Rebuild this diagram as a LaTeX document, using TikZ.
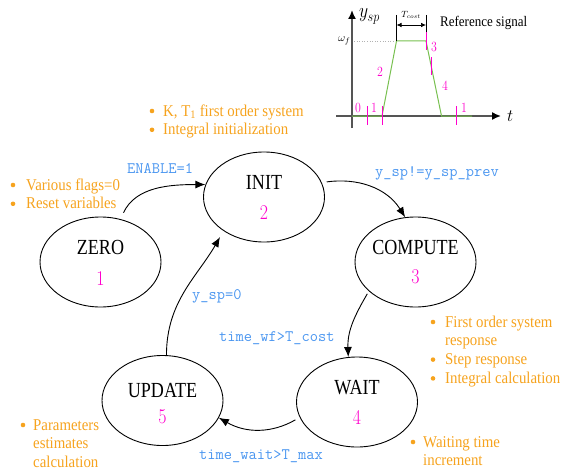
\documentclass[tikz,border=0pt]{standalone}
\usepackage{fontspec}
\usepackage{graphicx}
\usetikzlibrary{shapes.geometric,arrows.meta}

\newfontfamily\txtserif{Liberation Serif}

\definecolor{noteO}{RGB}{246,163,30}
\definecolor{condB}{RGB}{74,150,240}
\definecolor{numM}{RGB}{255,0,204}
\definecolor{sigG}{RGB}{120,192,80}
\definecolor{axisG}{RGB}{85,85,85}

% horizontally condensed text
\newcommand\sqz[2][0.84]{\scalebox{#1}[1]{#2}}

\begin{document}
\begin{tikzpicture}[x=1pt,y=1pt,
  stnode/.style={ellipse,draw,line width=0.9pt,minimum width=121pt,minimum height=90pt,inner sep=0pt},
  stname/.style={anchor=base,inner sep=0pt,font=\txtserif\fontsize{21.5}{24}\selectfont},
  stnum/.style={anchor=base,inner sep=0pt,text=numM,font=\fontsize{21}{24}\selectfont},
  trans/.style={draw,line width=0.9pt,-{Latex[length=10pt,width=8pt]}},
  cond/.style={anchor=base west,inner sep=0pt,text=condB,font=\fontsize{16}{18}\ttfamily},
  notes/.style={anchor=base west,inner sep=0pt,text=noteO,font=\txtserif\fontsize{16.5}{18.8}\selectfont},
  dotb/.style={circle,fill=noteO,inner sep=0pt,minimum size=4.6pt},
  axisln/.style={line width=1.6pt,draw=axisG,-{Latex[length=9pt,width=8pt,color=black]}},
  tick/.style={draw=numM,line width=1pt},
  signum/.style={inner sep=0pt,text=numM,font=\fontsize{14}{16}\selectfont},
]
\useasboundingbox (0,0) rectangle (561,475);

% ---------------- states ----------------
\node[stnode] (zero)    at (100.5,213) {};
\node[stnode] (init)    at (264,278)   {};
\node[stnode] (compute) at (415.5,213) {};
\node[stnode] (wait)    at (357,73)    {};
\node[stnode] (update)  at (162.5,74.5){};

\node[stname] (zero-n)    at (100.5,221) {\sqz{ZERO}};
\node[stnum]  (zero-k)    at (100.5,190) {\sqz[0.85]{1}};
\node[stname] (init-n)    at (264,286)   {\sqz{INIT}};
\node[stnum]  (init-k)    at (264,256)   {\sqz[0.85]{2}};
\node[stname] (compute-n) at (415.5,221) {\sqz{COMPUTE}};
\node[stnum]  (compute-k) at (415.5,192) {\sqz[0.85]{3}};
\node[stname] (wait-n)    at (357,81)    {\sqz{WAIT}};
\node[stnum]  (wait-k)    at (357,51)    {\sqz[0.85]{4}};
\node[stname] (update-n)  at (162.5,78)  {\sqz{UPDATE}};
\node[stnum]  (update-k)  at (162.5,52)  {\sqz[0.85]{5}};

% ---------------- transitions ----------------
\draw[trans,shorten <=7pt] (zero.65) to[out=65,in=180] (init.168);
\draw[trans,shorten <=5pt] (init.14) to[out=8,in=122] (compute.103);
\draw[trans,shorten <=3pt] (compute.212) to[out=240,in=92] (wait.101);
\draw[trans,shorten <=5pt] (wait.195) to[out=210,in=-30] (update.343);
\draw[trans,shorten >=7pt] (update.85) to[out=90,in=240] (init.220);

\node[cond] (c-enable) at (127,302) {ENABLE=1};
\node[cond] (c-ysp)    at (375,299) {y\_sp!=y\_sp\_prev};
\node[cond] (c-zero)   at (192,176) {y\_sp=0};
\node[cond] (c-wf)     at (219,134) {time\_wf>T\_cost};
\node[cond] (c-wait)   at (199,16)  {time\_wait>T\_max};

% ---------------- notes ----------------
\node[notes] (n-init) at (163,359) {\sqz[0.9]{\begin{tabular}[t]{@{}l@{}}K, T\textsubscript{1} first order system\\Integral initialization\end{tabular}}};
\node[dotb] (b-init1) at (152,364) {};
\node[dotb] (b-init2) at (152,345.2) {};

\node[notes] (n-zero) at (26,285) {\sqz[0.9]{\begin{tabular}[t]{@{}l@{}}Various flags=0\\Reset variables\end{tabular}}};
\node[dotb] (b-zero1) at (13,290) {};
\node[dotb] (b-zero2) at (13,271.2) {};

\node[notes] (n-comp) at (445,148) {\sqz[0.9]{\begin{tabular}[t]{@{}l@{}}First order system\\response\\Step response\\Integral calculation\end{tabular}}};
\node[dotb] (b-comp1) at (433,153) {};
\node[dotb] (b-comp2) at (433,115.4) {};
\node[dotb] (b-comp3) at (433,96.6) {};

\node[notes] (n-wait) at (423,28) {\sqz[0.9]{\begin{tabular}[t]{@{}l@{}}Waiting time\\increment\end{tabular}}};
\node[dotb] (b-wait1) at (413,33) {};

\node[notes] (n-upd) at (33,45) {\sqz[0.9]{\begin{tabular}[t]{@{}l@{}}Parameters\\estimates\\calculation\end{tabular}}};
\node[dotb] (b-upd1) at (23,50) {};

% ---------------- reference signal inset ----------------
\draw[axisln] (336,359) -- (501,359);
\draw[axisln] (352,347) -- (352,465);
\draw[gray!60,dotted,line width=0.6pt] (354,434) -- (396.5,434);
\draw[sigG,line width=1pt] (352,359) -- (382,359) -- (396.5,434) -- (426,434) -- (441.5,359) -- (472,359);

\draw[tick] (367,369) -- (367,350);
\draw[tick] (382,369) -- (382,350);
\draw[tick] (456,369) -- (456,350);
\draw[tick] (426,443) -- (426,425);
\draw[tick] (431,418) -- (431,400);

\draw[line width=0.5pt] (396.5,460) -- (396.5,434);
\draw[line width=0.5pt] (426,460) -- (426,443);
\draw[line width=0.7pt,{Latex[length=5pt,width=4.5pt]}-{Latex[length=5pt,width=4.5pt]}] (396.5,450) -- (426,450);

\node[inner sep=0pt,font=\fontsize{9}{10}\selectfont] (tcost) at (411,460) {$T_{cost}$};
\node[inner sep=0pt,anchor=east,font=\fontsize{11}{12}\selectfont] (wf) at (350.5,434) {$\omega_f$};
\node[inner sep=0pt,anchor=base west,font=\fontsize{21}{24}\selectfont] (yspl) at (359,457) {\sqz[0.85]{$y_{sp}$}};
\node[inner sep=0pt,anchor=base west,font=\fontsize{17}{20}\selectfont] (tl) at (507,354) {$t$};
\node[inner sep=0pt,anchor=base west,font=\txtserif\fontsize{14.6}{16}\selectfont] (refsig) at (440,448) {\sqz[0.89]{Reference signal}};

\node[signum] (s0)  at (358,367) {\sqz[0.85]{0}};
\node[signum] (s1a) at (374,367) {\sqz[0.85]{1}};
\node[signum] (s2)  at (380,403) {\sqz[0.85]{2}};
\node[signum] (s3)  at (434,428) {\sqz[0.85]{3}};
\node[signum] (s4)  at (445,389) {\sqz[0.85]{4}};
\node[signum] (s1b) at (464,367) {\sqz[0.85]{1}};
\end{tikzpicture}
\end{document}
